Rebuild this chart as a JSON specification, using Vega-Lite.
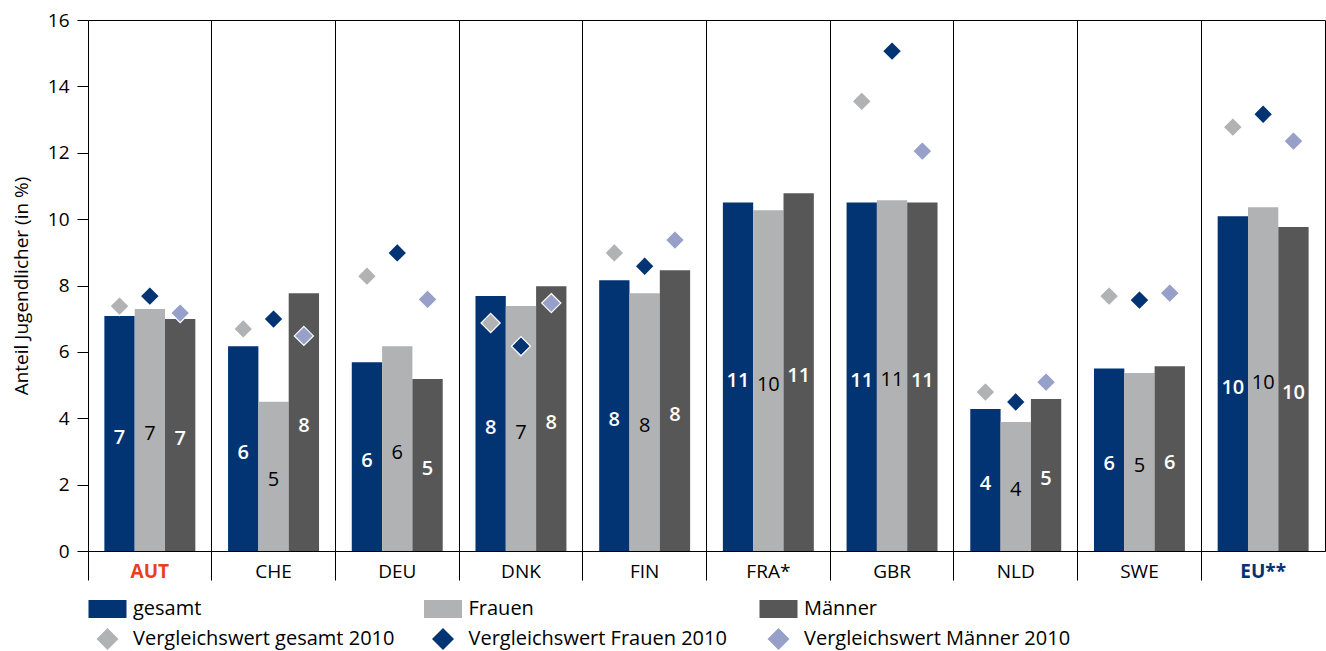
{
  "$schema": "https://vega.github.io/schema/vega-lite/v6.json",
  "width": 1237,
  "height": 531,
  "autosize": {"type": "none"},
  "padding": {"left": 88, "top": 20, "right": 1, "bottom": 100},
  "background": "white",
  "config": {
    "font": "Open Sans",
    "view": {"stroke": "black", "strokeWidth": 1},
    "axis": {"labelFont": "Open Sans", "titleFont": "Open Sans", "labelFontSize": 19, "titleFontSize": 19, "labelColor": "black", "titleColor": "black", "titleFontWeight": "normal", "tickColor": "black", "domainColor": "black"},
    "legend": {"labelFont": "Open Sans", "labelFontSize": 20, "labelColor": "black", "labelLimit": 500}
  },
  "datasets": {
    "bars": [
      {"country": "AUT", "group": "gesamt", "value": 7.08}, {"country": "AUT", "group": "Frauen", "value": 7.29}, {"country": "AUT", "group": "Männer", "value": 6.99},
      {"country": "CHE", "group": "gesamt", "value": 6.17}, {"country": "CHE", "group": "Frauen", "value": 4.5}, {"country": "CHE", "group": "Männer", "value": 7.77},
      {"country": "DEU", "group": "gesamt", "value": 5.69}, {"country": "DEU", "group": "Frauen", "value": 6.17}, {"country": "DEU", "group": "Männer", "value": 5.18},
      {"country": "DNK", "group": "gesamt", "value": 7.68}, {"country": "DNK", "group": "Frauen", "value": 7.38}, {"country": "DNK", "group": "Männer", "value": 7.98},
      {"country": "FIN", "group": "gesamt", "value": 8.16}, {"country": "FIN", "group": "Frauen", "value": 7.77}, {"country": "FIN", "group": "Männer", "value": 8.46},
      {"country": "FRA*", "group": "gesamt", "value": 10.5}, {"country": "FRA*", "group": "Frauen", "value": 10.27}, {"country": "FRA*", "group": "Männer", "value": 10.78},
      {"country": "GBR", "group": "gesamt", "value": 10.5}, {"country": "GBR", "group": "Frauen", "value": 10.57}, {"country": "GBR", "group": "Männer", "value": 10.5},
      {"country": "NLD", "group": "gesamt", "value": 4.28}, {"country": "NLD", "group": "Frauen", "value": 3.89}, {"country": "NLD", "group": "Männer", "value": 4.58},
      {"country": "SWE", "group": "gesamt", "value": 5.5}, {"country": "SWE", "group": "Frauen", "value": 5.36}, {"country": "SWE", "group": "Männer", "value": 5.57},
      {"country": "EU**", "group": "gesamt", "value": 10.09}, {"country": "EU**", "group": "Frauen", "value": 10.36}, {"country": "EU**", "group": "Männer", "value": 9.76}
    ],
    "refs": [
      {"country": "AUT", "group": "gesamt", "legend": "Vergleichswert gesamt 2010", "value": 7.38}, {"country": "AUT", "group": "Frauen", "legend": "Vergleichswert Frauen 2010", "value": 7.68}, {"country": "AUT", "group": "Männer", "legend": "Vergleichswert Männer 2010", "value": 7.17},
      {"country": "CHE", "group": "gesamt", "legend": "Vergleichswert gesamt 2010", "value": 6.69}, {"country": "CHE", "group": "Frauen", "legend": "Vergleichswert Frauen 2010", "value": 6.99}, {"country": "CHE", "group": "Männer", "legend": "Vergleichswert Männer 2010", "value": 6.48},
      {"country": "DEU", "group": "gesamt", "legend": "Vergleichswert gesamt 2010", "value": 8.28}, {"country": "DEU", "group": "Frauen", "legend": "Vergleichswert Frauen 2010", "value": 8.98}, {"country": "DEU", "group": "Männer", "legend": "Vergleichswert Männer 2010", "value": 7.58},
      {"country": "DNK", "group": "gesamt", "legend": "Vergleichswert gesamt 2010", "value": 6.87}, {"country": "DNK", "group": "Frauen", "legend": "Vergleichswert Frauen 2010", "value": 6.17}, {"country": "DNK", "group": "Männer", "legend": "Vergleichswert Männer 2010", "value": 7.47},
      {"country": "FIN", "group": "gesamt", "legend": "Vergleichswert gesamt 2010", "value": 8.98}, {"country": "FIN", "group": "Frauen", "legend": "Vergleichswert Frauen 2010", "value": 8.58}, {"country": "FIN", "group": "Männer", "legend": "Vergleichswert Männer 2010", "value": 9.37},
      {"country": "GBR", "group": "gesamt", "legend": "Vergleichswert gesamt 2010", "value": 13.55}, {"country": "GBR", "group": "Frauen", "legend": "Vergleichswert Frauen 2010", "value": 15.06}, {"country": "GBR", "group": "Männer", "legend": "Vergleichswert Männer 2010", "value": 12.05},
      {"country": "NLD", "group": "gesamt", "legend": "Vergleichswert gesamt 2010", "value": 4.79}, {"country": "NLD", "group": "Frauen", "legend": "Vergleichswert Frauen 2010", "value": 4.49}, {"country": "NLD", "group": "Männer", "legend": "Vergleichswert Männer 2010", "value": 5.09},
      {"country": "SWE", "group": "gesamt", "legend": "Vergleichswert gesamt 2010", "value": 7.68}, {"country": "SWE", "group": "Frauen", "legend": "Vergleichswert Frauen 2010", "value": 7.56}, {"country": "SWE", "group": "Männer", "legend": "Vergleichswert Männer 2010", "value": 7.77},
      {"country": "EU**", "group": "gesamt", "legend": "Vergleichswert gesamt 2010", "value": 12.77}, {"country": "EU**", "group": "Frauen", "legend": "Vergleichswert Frauen 2010", "value": 13.16}, {"country": "EU**", "group": "Männer", "legend": "Vergleichswert Männer 2010", "value": 12.35}
    ]
  },
  "encoding": {
    "x": {
      "field": "country", "type": "nominal", "sort": null,
      "scale": {"domain": ["AUT", "CHE", "DEU", "DNK", "FIN", "FRA*", "GBR", "NLD", "SWE", "EU**"], "paddingInner": 0, "paddingOuter": 0},
      "axis": {
        "title": null, "labelAngle": 0, "bandPosition": 0, "tickSize": 29, "labelPadding": -18,
        "grid": true, "gridColor": "black", "gridOpacity": 1, "gridWidth": 1, "domainColor": "black",
        "labelColor": {"condition": [{"test": "datum.value === 'AUT'", "value": "#e8401c"}, {"test": "datum.value === 'EU**'", "value": "#023373"}], "value": "black"},
        "labelFontWeight": {"condition": {"test": "datum.value === 'AUT' || datum.value === 'EU**'", "value": "bold"}, "value": "normal"}
      }
    },
    "xOffset": {"field": "group", "type": "nominal", "sort": null, "scale": {"domain": ["gesamt", "Frauen", "Männer"], "paddingInner": 0, "paddingOuter": 0.54}},
    "y": {
      "field": "value", "type": "quantitative",
      "scale": {"domain": [0, 16], "nice": false},
      "axis": {"title": "Anteil Jugendlicher (in %)", "values": [0, 2, 4, 6, 8, 10, 12, 14, 16], "tickSize": 11, "labelPadding": 8, "domain": false, "grid": false, "titlePadding": 16}
    }
  },
  "layer": [
    {
      "data": {"name": "bars"},
      "mark": {"type": "bar"},
      "encoding": {
        "color": {
          "field": "group", "type": "nominal",
          "scale": {
            "domain": ["gesamt", "Frauen", "Männer", "Vergleichswert gesamt 2010", "Vergleichswert Frauen 2010", "Vergleichswert Männer 2010"],
            "range": ["#023373", "#b1b2b4", "#575757", "#b1b2b4", "#023373", "#96a0c8"]
          },
          "legend": {
            "title": null, "orient": "none", "legendX": 9.5, "legendY": 578, "direction": "horizontal", "columns": 3,
            "gridAlign": "all", "columnPadding": 24.5, "rowPadding": 7, "padding": 0, "labelLimit": 500,
            "symbolSize": 361, "labelOffset": 15.5, "symbolStrokeWidth": 0, "labelFontSize": 20,
            "encode": {"symbols": {"update": {
              "shape": {"signal": "indexof(['gesamt','Frauen','Männer'], datum.value) >= 0 ? 'M-2,-0.95H2V0.95H-2Z' : 'M0,-1.16L1.16,0L0,1.16L-1.16,0Z'"},
              "strokeWidth": {"value": 0}
            }}}
          }
        }
      }
    },
    {
      "data": {"name": "refs"},
      "mark": {"type": "point", "shape": "M0,-1.16L1.16,0L0,1.16L-1.16,0Z", "filled": true, "size": 272, "opacity": 1, "stroke": "white", "strokeWidth": 1.2},
      "encoding": {
        "color": {"field": "legend", "type": "nominal"}
      }
    },
    {
      "data": {"name": "bars"},
      "transform": [{"filter": "datum.group !== 'Frauen'"}],
      "mark": {"type": "text", "font": "Open Sans", "fontSize": 20, "fontWeight": 600, "baseline": "middle", "color": "white", "dy": 4},
      "encoding": {
        "y": {"field": "value", "type": "quantitative", "stack": "zero", "bandPosition": 0.5},
        "text": {"field": "value", "type": "quantitative", "format": ".0f"}
      }
    },
    {
      "data": {"name": "bars"},
      "transform": [{"filter": "datum.group === 'Frauen'"}],
      "mark": {"type": "text", "font": "Open Sans", "fontSize": 20, "fontWeight": "normal", "baseline": "middle", "color": "black", "dy": 4},
      "encoding": {
        "y": {"field": "value", "type": "quantitative", "stack": "zero", "bandPosition": 0.5},
        "text": {"field": "value", "type": "quantitative", "format": ".0f"}
      }
    }
  ]
}
